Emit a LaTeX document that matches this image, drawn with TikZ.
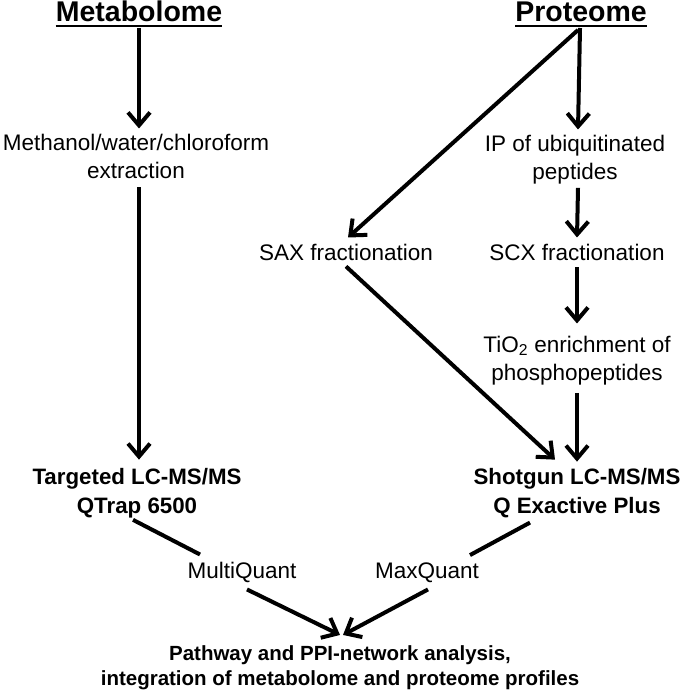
\documentclass[tikz,border=0pt]{standalone}
\usepackage{fontspec}
\setmainfont{Liberation Sans}
\usetikzlibrary{arrows.meta}
\begin{document}
\begin{tikzpicture}[x=1pt,y=-1pt,
  reg/.style={font=\fontsize{22.5}{28}\selectfont, align=center, inner sep=0pt, anchor=base},
  bld/.style={font=\bfseries\fontsize{22.3}{29}\selectfont, align=center, inner sep=0pt, anchor=base},
  res/.style={font=\bfseries\fontsize{20.5}{25}\selectfont, align=center, inner sep=0pt, anchor=base},
  ttl/.style={font=\bfseries\fontsize{28.5}{32}\selectfont, inner sep=0pt, anchor=base},
  arr/.style={line width=4pt, -{Straight Barb[length=13pt,width=22pt,line width=4pt]}},
  ln/.style={line width=4pt},
  ul/.style={line width=2pt}]
\useasboundingbox (0,0) rectangle (680,692);
% titles
\node[ttl] (meta) at (139,22) {Metabolome};
\node[ttl] (prot) at (581,22) {Proteome};
\draw[ul] ([yshift=-4pt]meta.base west) -- ([yshift=-4pt]meta.base east);
\draw[ul] ([yshift=-4pt]prot.base west) -- ([yshift=-4pt]prot.base east);
% metabolome branch
\node[reg] (ext) at (136,179) {Methanol/water/chloroform\\extraction};
\node[bld] (targ) at (137,513) {Targeted LC-MS/MS\\QTrap 6500};
\node[reg] (mq) at (242,578) {MultiQuant};
% proteome branch
\node[reg] (ip) at (575,180) {IP of ubiquitinated\\peptides};
\node[reg] (sax) at (346,260) {SAX fractionation};
\node[reg] (scx) at (577,260) {SCX fractionation};
\node[reg] (tio) at (577,380) {TiO\textsubscript{2} enrichment of\\phosphopeptides};
\node[bld] (shot) at (577,513) {Shotgun LC-MS/MS\\Q Exactive Plus};
\node[reg] (maxq) at (427,578) {MaxQuant};
% result
\node[res] (path) at (340,685) {Pathway and PPI-network analysis,\\integration of metabolome and proteome profiles};
% connectors
\draw[arr] ([yshift=-6pt]meta.base) -- ([yshift=6pt]meta.base |- ext.north);
\draw[arr] ([xshift=-1pt,yshift=-6pt]prot.base) -- ([xshift=-3pt,yshift=6pt]prot.base |- ip.north);
\draw[arr] ([xshift=-3pt,yshift=-8pt]prot.base) -- ([xshift=2pt,yshift=6pt]sax.north);
\draw[arr] ([xshift=3pt,yshift=-8pt]ext.south) -- ([xshift=3pt,yshift=8pt]ext.south |- targ.north);
\draw[arr] ([xshift=3pt,yshift=-3pt]ip.south) -- ([yshift=6pt]scx.north);
\draw[arr] ([yshift=-7pt]scx.south) -- ([yshift=12pt]tio.north);
\draw[arr] ([yshift=-8pt]tio.south) -- ([yshift=6pt]shot.north);
\draw[arr] ([yshift=-6pt]sax.south) -- ([xshift=-22pt,yshift=8pt]shot.north);
\draw[ln] ([xshift=-4pt,yshift=-2pt]targ.south) -- ([xshift=-42pt,yshift=7pt]mq.north);
\draw[ln] ([xshift=-47pt,yshift=-5pt]shot.south) -- ([xshift=43pt,yshift=7pt]maxq.north);
\draw[arr] ([xshift=5pt,yshift=-7pt]mq.south) -- ([yshift=10pt]path.north);
\draw[arr] ([xshift=1pt,yshift=-7pt]maxq.south) -- ([xshift=3pt,yshift=10pt]path.north);
\end{tikzpicture}
\end{document}
